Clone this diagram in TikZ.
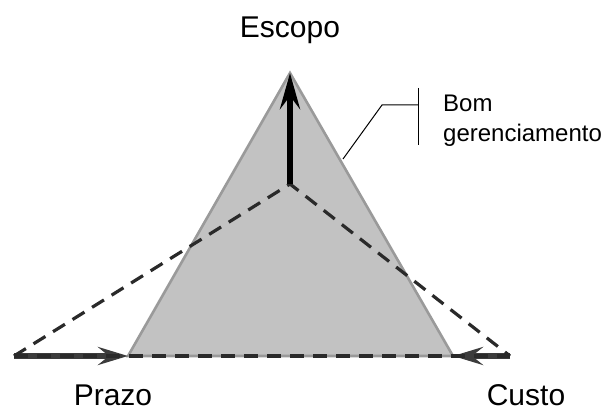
\documentclass[tikz,border=0pt]{standalone}
\usepackage{fontspec}
\setmainfont{Liberation Sans}
\usetikzlibrary{arrows.meta}
\definecolor{trifill}{HTML}{C2C2C2}
\definecolor{triedge}{HTML}{9A9A9A}
\definecolor{dashc}{HTML}{2A2A2A}
\definecolor{arrline}{HTML}{3C3C3C}
\tikzset{
  trianglestyle/.style={fill=trifill, draw=triedge, line width=2.6pt, line join=miter},
  dashline/.style={draw=dashc, line width=3.2pt, dash pattern=on 14pt off 9pt},
  bigarrow/.style={draw=black, line width=6pt, -{Stealth[length=36pt,width=20pt,inset=13pt]}},
  sidearrow/.style={draw=arrline, line width=5.5pt, -{Stealth[length=30pt,width=18pt,inset=11pt]}},
  callout/.style={draw=black, line width=1pt},
  bigtext/.style={font=\fontsize{30}{36}\selectfont, inner sep=0pt},
  smalltext/.style={font=\fontsize{24}{30}\selectfont, inner sep=0pt},
}
\begin{document}
\begin{tikzpicture}[x=1pt, y=-1pt]
\useasboundingbox (0,0) rectangle (608,411);
% key points
\coordinate (apex) at (290,73);
\coordinate (bl) at (128,356);
\coordinate (br) at (453,356);
\coordinate (inner) at (290,184);
\coordinate (farl) at (14,356);
\coordinate (farr) at (510,356);
\coordinate (edge) at (343,159);
\coordinate (bend) at (382,105);
\coordinate (tick) at (418,105);
\coordinate (ticktop) at (418,88);
\coordinate (tickbot) at (418,145);
% triangle
\path[trianglestyle] (apex) -- (br) -- (bl) -- cycle;
% side arrows
\draw[sidearrow] (farl) -- (bl);
\draw[sidearrow] (farr) -- (br);
% dashed triangle
\draw[dashline] (farl) -- (inner) -- (farr);
\draw[dashline] (farl) -- (farr);
% scope arrow
\draw[bigarrow] (inner) -- (apex);
% callout
\draw[callout] (edge) -- (bend) -- (tick);
\draw[callout] (ticktop) -- (tickbot);
% labels
\node[bigtext, anchor=base] (escopo) at (290,38) {Escopo};
\node[bigtext, anchor=base] (prazo) at (113,406) {Prazo};
\node[bigtext, anchor=base] (custo) at (526,406) {Custo};
\node[smalltext, anchor=base west] (bom) at (443,112) {Bom};
\node[smalltext, anchor=base west] (ger) at (443,142) {gerenciamento};
\end{tikzpicture}
\end{document}
